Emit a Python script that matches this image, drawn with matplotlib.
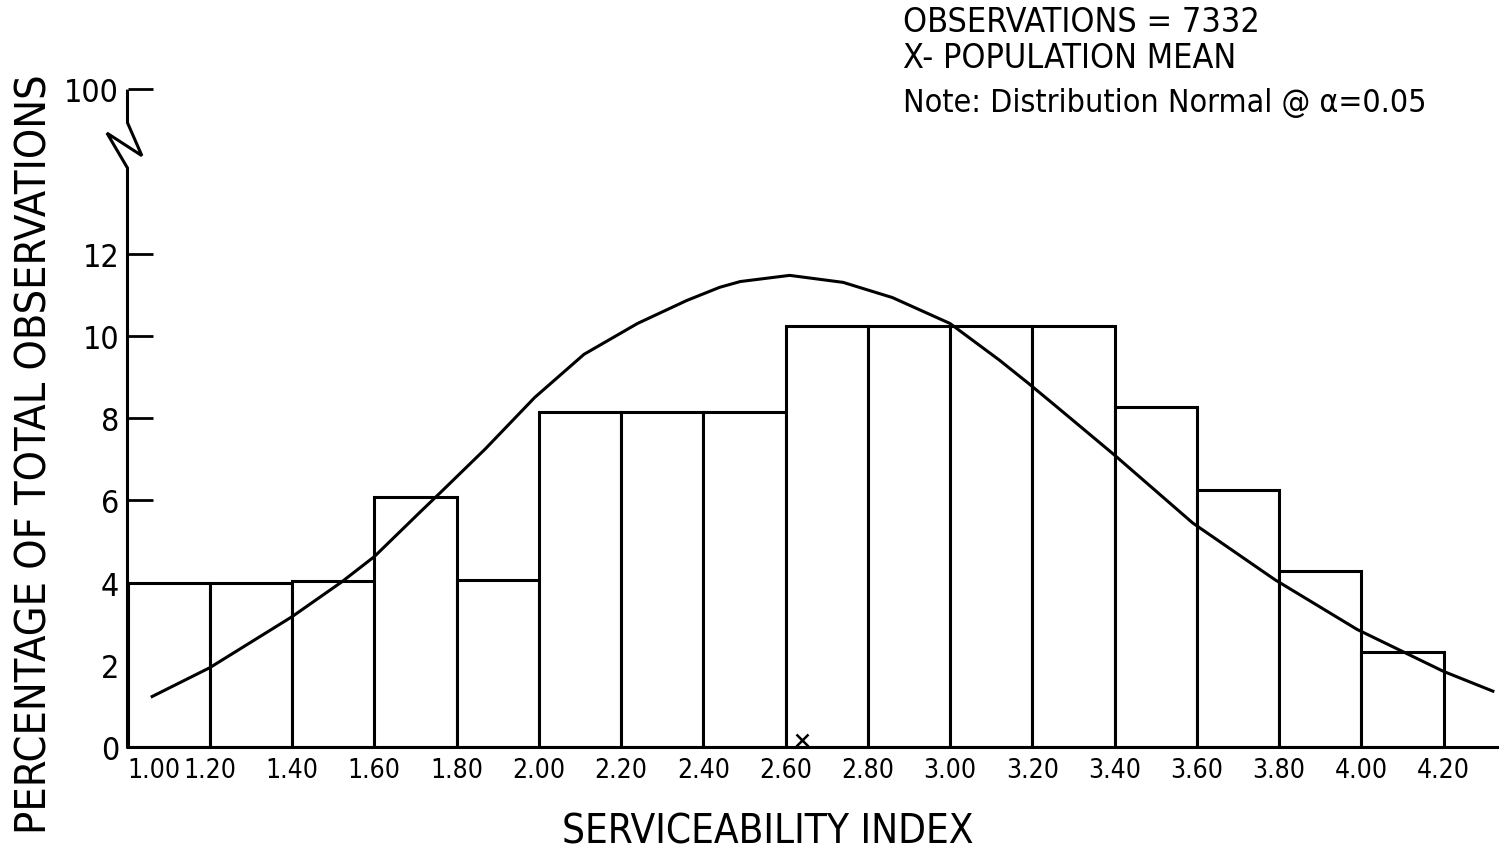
import matplotlib
matplotlib.use("Agg")
import matplotlib.pyplot as plt
import matplotlib.transforms as mtransforms

plt.rcParams['font.family'] = ['DejaVu Sans']
plt.rcParams['font.stretch'] = 'condensed'

# histogram bins (left edges) and heights, percent of total observations
bin_left = [1.00, 1.20, 1.40, 1.60, 1.80, 2.00, 2.20, 2.40,
            2.60, 2.80, 3.00, 3.20, 3.40, 3.60, 3.80, 4.00]
pct = [4.0, 4.0, 4.05, 6.08, 4.07, 8.15, 8.15, 8.15,
       10.23, 10.23, 10.23, 10.23, 8.27, 6.25, 4.27, 2.3]

# fitted normal curve
curve_x = [1.06, 1.20, 1.40, 1.52, 1.60, 1.71, 1.76, 1.87, 1.99, 2.11,
           2.24, 2.36, 2.44, 2.49, 2.61, 2.74, 2.86, 2.94, 3.00, 3.12,
           3.19, 3.26, 3.40, 3.59, 3.79, 3.99, 4.20, 4.32]
curve_y = [1.23, 1.93, 3.17, 4.01, 4.63, 5.70, 6.18, 7.25, 8.50, 9.55,
           10.30, 10.86, 11.18, 11.32, 11.47, 11.30, 10.93, 10.57, 10.30, 9.41,
           8.85, 8.27, 7.10, 5.45, 4.07, 2.86, 1.84, 1.36]

mean_x = [2.64]

x_ticks = [1.00, 1.20, 1.40, 1.60, 1.80, 2.00, 2.20, 2.40, 2.60, 2.80,
           3.00, 3.20, 3.40, 3.60, 3.80, 4.00, 4.20]
x_labels = ["1.00", "1.20", "1.40", "1.60", "1.80", "2.00", "2.20", "2.40",
            "2.60", "2.80", "3.00", "3.20", "3.40", "3.60", "3.80", "4.00",
            "4.20"]
y_ticks = [0, 2, 4, 6, 8, 10, 12, 16]
y_labels = ["0", "2", "4", "6", "8", "10", "12", "100"]

notes = ["OBSERVATIONS = 7332", "X- POPULATION MEAN",
         "Note: Distribution Normal @ \u03b1=0.05"]

fig = plt.figure(figsize=(15, 8.53), dpi=100)
ax = fig.add_axes([0.085, 0.123, 0.913, 0.7714])

ax.bar(bin_left, pct, width=0.2, align='edge', facecolor='white',
       edgecolor='black', linewidth=2.2, zorder=2)
ax.plot(curve_x, curve_y, color='black', linewidth=2.2, zorder=3,
        clip_on=False, solid_joinstyle='round')
ax.plot(mean_x, [0.17], marker='x', color='black', markersize=9,
        markeredgewidth=1.8, linestyle='none', zorder=4, clip_on=False)

ax.set_xlim(1.0, 4.33)
ax.set_ylim(0, 16)

for s in ['top', 'right', 'left']:
    ax.spines[s].set_visible(False)
ax.spines['bottom'].set_linewidth(2.2)

# broken y axis drawn by hand
brk_x = [1.0, 1.0, 0.95, 1.035, 1.0, 1.0]
brk_y = [0, 14.08, 14.93, 14.38, 15.18, 15.95]
ax.plot(brk_x, brk_y, color='black', linewidth=2.2, clip_on=False,
        solid_joinstyle='miter', zorder=5)

ax.set_yticks(y_ticks)
ax.set_yticklabels(y_labels, fontsize=23)
ax.tick_params(axis='y', direction='in', length=18, width=2, pad=6)
ax.yaxis.get_major_ticks()[0].tick1line.set_visible(False)

ax.set_xticks(x_ticks)
ax.set_xticklabels(x_labels, fontsize=19)
ax.tick_params(axis='x', length=0, pad=7)
# first label sits a bit right of the axis corner, as in the original
first = ax.get_xticklabels()[0]
first.set_transform(first.get_transform() +
                    mtransforms.ScaledTranslation(0.26, 0, fig.dpi_scale_trans))

fig.text(0.512, 0.0235, "SERVICEABILITY INDEX", fontsize=29,
         ha='center', va='center')
fig.text(0.023, 0.467, "PERCENTAGE OF TOTAL OBSERVATIONS", fontsize=31,
         rotation=90, ha='center', va='center')

note_y = [0.974, 0.932, 0.879]
note_size = [24.5, 24.5, 23]
for t, y, s in zip(notes, note_y, note_size):
    fig.text(0.602, y, t, fontsize=s, va='center', ha='left')

fig.savefig("out.png", dpi=100)
